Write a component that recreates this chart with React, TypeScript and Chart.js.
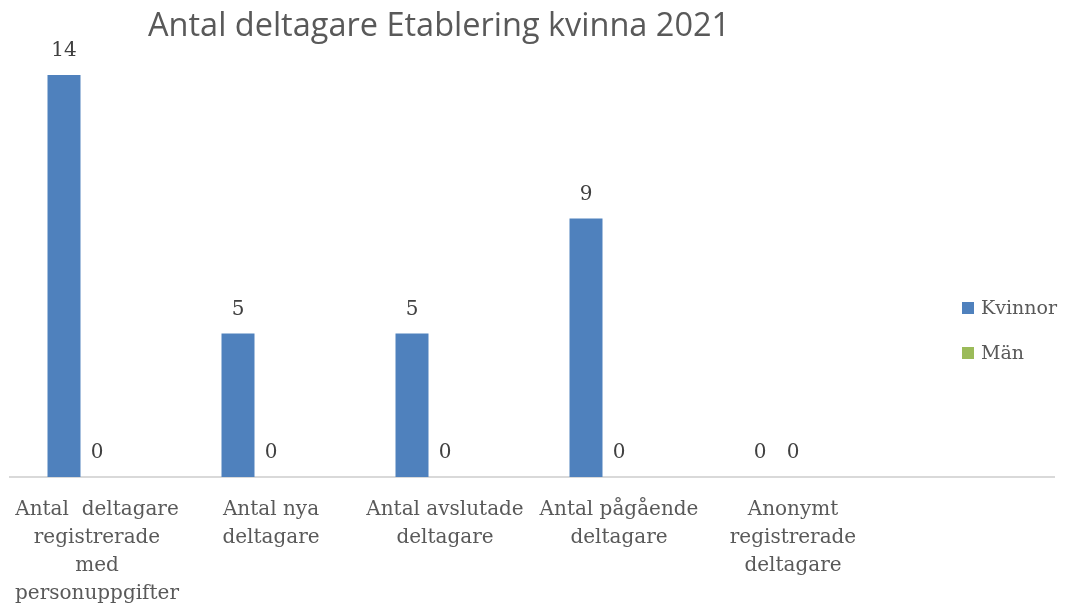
import React, { useEffect, useRef } from "react";
import { Chart, registerables } from "chart.js";

Chart.register(...registerables);

const TITLE = "Antal deltagare Etablering kvinna 2021";
const categories: (string | string[])[] = [
  ["Antal  deltagare", "registrerade", "med", "personuppgifter"],
  ["Antal nya", "deltagare"],
  ["Antal avslutade", "deltagare"],
  ["Antal pågående", "deltagare"],
  ["Anonymt", "registrerade", "deltagare"],
  "",
];
const kvinnor: (number | null)[] = [14, 5, 5, 9, 0, null];
const man: (number | null)[] = [0, 0, 0, 0, 0, null];
const spacer: (number | null)[] = [null, null, null, null, null, null];

const SERIF = "'DejaVu Serif', serif";
const SANS = "'Open Sans', sans-serif";

const titlePlugin = {
  id: "customTitle",
  afterDraw(chart: any) {
    const { ctx } = chart;
    ctx.save();
    ctx.font = `32.5px ${SANS}`;
    ctx.fillStyle = "#595959";
    ctx.textAlign = "left";
    ctx.textBaseline = "alphabetic";
    ctx.fillText(TITLE, 148, 36);
    ctx.restore();
  },
};

const valueLabels = {
  id: "valueLabels",
  afterDatasetsDraw(chart: any) {
    const { ctx } = chart;
    ctx.save();
    ctx.font = `20px ${SERIF}`;
    ctx.fillStyle = "#404040";
    ctx.textAlign = "center";
    ctx.textBaseline = "middle";
    chart.data.datasets.forEach((ds: any, di: number) => {
      if (!ds.label) return;
      const meta = chart.getDatasetMeta(di);
      meta.data.forEach((el: any, i: number) => {
        const v = ds.data[i];
        if (v === null || v === undefined) return;
        ctx.fillText(String(v), el.x, el.y - 24);
      });
    });
    ctx.restore();
  },
};

const legendPlugin = {
  id: "customLegend",
  afterDraw(chart: any) {
    const { ctx } = chart;
    ctx.save();
    ctx.font = `19px ${SERIF}`;
    ctx.textAlign = "left";
    ctx.textBaseline = "middle";
    let row = 0;
    chart.data.datasets.forEach((ds: any) => {
      if (!ds.label) return;
      const cy = 308 + row * 45;
      ctx.fillStyle = ds.backgroundColor;
      ctx.fillRect(962, cy - 6, 12, 12);
      ctx.fillStyle = "#595959";
      ctx.fillText(ds.label, 981, cy + 1);
      row++;
    });
    ctx.restore();
  },
};

export default function App() {
  const ref = useRef<HTMLCanvasElement | null>(null);
  useEffect(() => {
    document.body.style.margin = "0";
    const canvas = ref.current;
    if (!canvas) return;
    const chart = new Chart(canvas, {
      type: "bar",
      data: {
        labels: categories,
        datasets: [
          { label: "Kvinnor", data: kvinnor, backgroundColor: "#4f81bd" },
          { label: "Män", data: man, backgroundColor: "#9bbb59" },
          { label: "", data: spacer, backgroundColor: "rgba(0,0,0,0)" },
        ],
      },
      options: {
        animation: false,
        responsive: false,
        devicePixelRatio: 1,
        layout: { padding: { left: 10, right: 12, top: 75, bottom: 0 } },
        datasets: { bar: { categoryPercentage: 0.569, barPercentage: 1 } },
        plugins: {
          legend: { display: false },
          title: { display: false },
          tooltip: { enabled: false },
        },
        scales: {
          x: {
            grid: { display: false, drawTicks: false },
            border: { display: true, color: "#d9d9d9", width: 2 },
            ticks: {
              autoSkip: false,
              maxRotation: 0,
              minRotation: 0,
              padding: 19,
              color: "#595959",
              font: { family: SERIF, size: 20, lineHeight: 1.4 },
            },
            afterFit(scale: any) {
              scale.height = 128;
              scale.paddingLeft = 0;
              scale.paddingRight = 0;
            },
          },
          y: {
            display: false,
            min: 0,
            max: 14,
          },
        },
      },
      plugins: [titlePlugin, valueLabels, legendPlugin],
    });
    return () => chart.destroy();
  }, []);
  return (
    <div style={{ width: 1066, height: 605, background: "#fff" }}>
      <canvas ref={ref} width={1066} height={605} style={{ display: "block" }} />
    </div>
  );
}
